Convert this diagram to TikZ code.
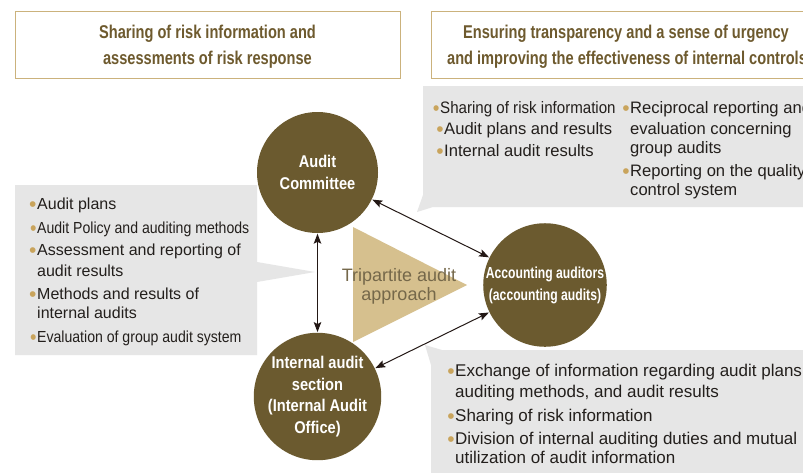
\documentclass[tikz,border=0pt]{standalone}
\usepackage{fontspec}
\setmainfont{Liberation Sans}
\newfontfamily\condf[FakeStretch=0.79]{Liberation Sans}
\newfontfamily\condb[FakeStretch=0.86]{Liberation Sans}
\newfontfamily\condk[FakeStretch=0.76]{Liberation Sans}
\newfontfamily\condi[FakeStretch=0.88]{Liberation Sans}
\newfontfamily\condj[FakeStretch=0.91]{Liberation Sans}
\usetikzlibrary{arrows.meta}
\definecolor{brownc}{HTML}{6B5A2F}
\definecolor{tri}{HTML}{D6C08E}
\definecolor{graybg}{HTML}{E6E6E6}
\definecolor{hdrline}{HTML}{CBB27C}
\definecolor{hdrtext}{HTML}{6E5A2E}
\definecolor{bul}{HTML}{C9A45C}
\definecolor{txt}{HTML}{231F1C}
\definecolor{tritext}{HTML}{75684A}
\definecolor{arrowc}{HTML}{231815}
\newcommand{\bl}{\llap{\raisebox{-2.6pt}{\fontsize{21}{21}\selectfont\textcolor{bul}{\textbullet}}\kern0.6pt}}
\begin{document}
\begin{tikzpicture}[x=1pt,y=-1pt,
  hdr/.style={draw=hdrline,line width=1pt,fill=white},
  hdrtxt/.style={anchor=base,inner sep=0,text=hdrtext,font=\condf\bfseries\fontsize{18.5}{22}\selectfont},
  bubble/.style={fill=graybg,draw=none},
  party/.style={circle,fill=brownc,draw=none,minimum size=121pt,inner sep=0,text=white,align=center,font=\condb\bfseries\fontsize{17}{21.5}\selectfont},
  itm/.style={anchor=base west,inner sep=0,text=txt,font=\fontsize{16}{19}\selectfont},
  itmc/.style={itm,font=\condi\fontsize{16}{19}\selectfont},
  itmt/.style={itm,font=\fontsize{16.6}{19}\selectfont},
  itmtc/.style={itm,font=\condj\fontsize{16.6}{19}\selectfont},
  itmb/.style={itm,font=\fontsize{17}{19}\selectfont},
  tritxt/.style={anchor=base,inner sep=0,text=tritext,font=\fontsize{18}{22}\selectfont},
  link/.style={{Stealth[length=10pt,width=7.5pt,inset=2pt]}-{Stealth[length=10pt,width=7.5pt,inset=2pt]},line width=1pt,draw=arrowc,shorten <=0.5pt,shorten >=0.5pt}
]
\clip (0,0) rectangle (803,472);
\fill[white] (0,0) rectangle (803,472);

% headers
\draw[hdr] (15,11) rectangle (400,78);
\draw[hdr] (431,11) rectangle (830,78);
\node[hdrtxt] (h1a) at (207.5,38) {Sharing of risk information and};
\node[hdrtxt] (h1b) at (207.5,64) {assessments of risk response};
\node[hdrtxt] (h2a) at (626,38) {Ensuring transparency and a sense of urgency};
\node[hdrtxt] (h2b) at (627,64) {and improving the effectiveness of internal controls};

% speech bubbles
\fill[bubble] (423,86) -- (830,86) -- (830,207) -- (433,207) -- (417,212) -- (423,195) -- cycle;
\fill[bubble] (15,185) -- (257,185) -- (257,262) -- (315,272) -- (257,282) -- (257,355) -- (15,355) -- cycle;
\fill[bubble] (431,365) -- (425,345) -- (442,350) -- (830,350) -- (830,480) -- (431,480) -- cycle;

% triangle
\coordinate (t1) at (353,227);
\coordinate (t2) at (353,342);
\coordinate (t3) at (467,285);
\fill[tri] (t1) -- (t3) -- (t2) -- cycle;
\node[tritxt] (tr1) at (399,281) {Tripartite audit};
\node[tritxt] (tr2) at (399,300) {approach};

% parties
\node[party] (ac) at (317.5,172.5) {Audit\\Committee};
\node[party,font=\condk\bfseries\fontsize{16}{22}\selectfont] (aa) at (545,285) {Accounting auditors\\(accounting audits)};
\node[party] (ia) at (317.5,396.5) {Internal audit\\section\\(Internal Audit\\Office)};

% connectors
\draw[link] (ac) -- (ia);
\draw[link] (ac) -- (aa);
\draw[link] (aa) -- (ia);

% left bubble text
\node[itm]  (l1) at (37,209) {\bl Audit plans};
\node[itmc] (l2) at (37,233) {\bl Audit Policy and auditing methods};
\node[itm]  (l3) at (37,255) {\bl Assessment and reporting of};
\node[itm]  (l4) at (37,276) {audit results};
\node[itm]  (l5) at (37,299) {\bl Methods and results of};
\node[itm]  (l6) at (37,318) {internal audits};
\node[itmc] (l7) at (37,342) {\bl Evaluation of group audit system};

% top right bubble text
\node[itmtc] (r1) at (440,113) {\bl Sharing of risk information};
\node[itmt]  (r2) at (444,134) {\bl Audit plans and results};
\node[itmt]  (r3) at (444,156) {\bl Internal audit results};
\node[itmt]  (r4) at (630,113) {\bl Reciprocal reporting and};
\node[itmt]  (r5) at (630,134) {evaluation concerning};
\node[itmt]  (r6) at (630,153) {group audits};
\node[itmt]  (r7) at (630,176) {\bl Reporting on the quality};
\node[itmt]  (r8) at (630,195) {control system};

% bottom right bubble text
\node[itmb] (b1) at (455,376) {\bl Exchange of information regarding audit plans,};
\node[itmb] (b2) at (455,397) {auditing methods, and audit results};
\node[itmb] (b3) at (455,421) {\bl Sharing of risk information};
\node[itmb] (b4) at (455,444) {\bl Division of internal auditing duties and mutual};
\node[itmb] (b5) at (455,463) {utilization of audit information};
\end{tikzpicture}
\end{document}
